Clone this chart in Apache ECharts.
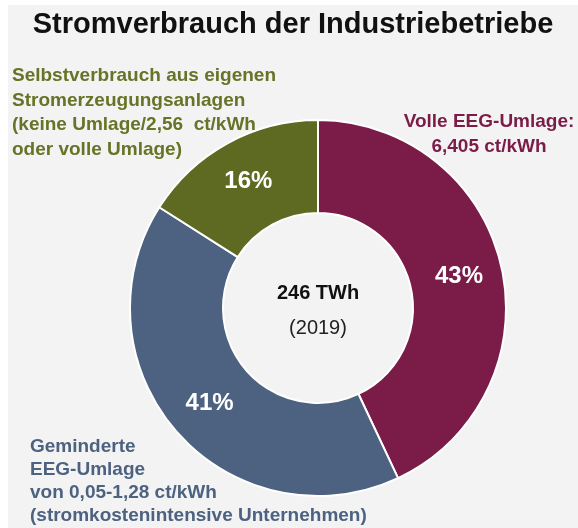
<!DOCTYPE html>
<html>
<head>
<meta charset="utf-8">
<script src="https://cdn.jsdelivr.net/npm/echarts@6/dist/echarts.min.js"></script>
<style>
  html, body { margin: 0; padding: 0; background: #fff; }
  #chart { position: absolute; left: 8px; top: 5px; width: 570px; height: 523px; }
</style>
</head>
<body>
<div id="chart"></div>
<script>
// Daten
var kategorien = ['Volle EEG-Umlage', 'Geminderte EEG-Umlage', 'Selbstverbrauch'];
var anteile = [43, 41, 16];
var farben = ['#7b1b48', '#4d6280', '#5e6a21'];
var beschriftungen = [
  'Volle EEG-Umlage:\n6,405 ct/kWh',
  'Geminderte\nEEG-Umlage\nvon 0,05-1,28 ct/kWh\n(stromkostenintensive Unternehmen)',
  'Selbstverbrauch aus eigenen\nStromerzeugungsanlagen\n(keine Umlage/2,56  ct/kWh\noder volle Umlage)'
];
var gesamt = '246 TWh';
var jahr = '(2019)';

var myChart = echarts.init(document.getElementById('chart'));

var daten = [];
for (var i = 0; i < kategorien.length; i++) {
  daten.push({ value: anteile[i], name: kategorien[i], itemStyle: { color: farben[i] } });
}

var schrift = 'Liberation Sans, Arial, sans-serif';

var option = {
  backgroundColor: '#f3f3f3',
  animation: false,
  title: {
    text: 'Stromverbrauch der Industriebetriebe',
    left: 'center',
    top: 0,
    textStyle: { fontFamily: schrift, fontSize: 29, fontWeight: 'bold', color: '#111' }
  },
  graphic: [
    { type: 'text', x: 4, y: 59, z: 10, style: { text: beschriftungen[2], fontFamily: schrift, fontSize: 19, fontWeight: 'bold', fill: '#677326', lineHeight: 24.5 } },
    { type: 'text', x: 481, y: 104, z: 10, style: { text: beschriftungen[0], fontFamily: schrift, fontSize: 19, fontWeight: 'bold', fill: '#7b1b48', lineHeight: 25, textAlign: 'center' } },
    { type: 'text', x: 22, y: 430, z: 10, style: { text: beschriftungen[1], fontFamily: schrift, fontSize: 19, fontWeight: 'bold', fill: '#4d6280', lineHeight: 23 } },
    { type: 'text', x: 310, y: 288, z: 10, style: { text: gesamt, fontFamily: schrift, fontSize: 20, fontWeight: 'bold', fill: '#111', textAlign: 'center', textVerticalAlign: 'middle' } },
    { type: 'text', x: 310, y: 323, z: 10, style: { text: jahr, fontFamily: schrift, fontSize: 20, fill: '#222', textAlign: 'center', textVerticalAlign: 'middle' } }
  ],
  series: [{
    type: 'pie',
    center: [310, 303],
    radius: [95, 188],
    startAngle: 90,
    clockwise: true,
    silent: true,
    itemStyle: { borderColor: '#fff', borderWidth: 2 },
    label: {
      show: true,
      position: 'inside',
      formatter: '{c}%',
      color: '#fff',
      fontFamily: schrift,
      fontSize: 24,
      fontWeight: 'bold'
    },
    labelLine: { show: false },
    data: daten
  }]
};

myChart.setOption(option);
</script>
</body>
</html>
